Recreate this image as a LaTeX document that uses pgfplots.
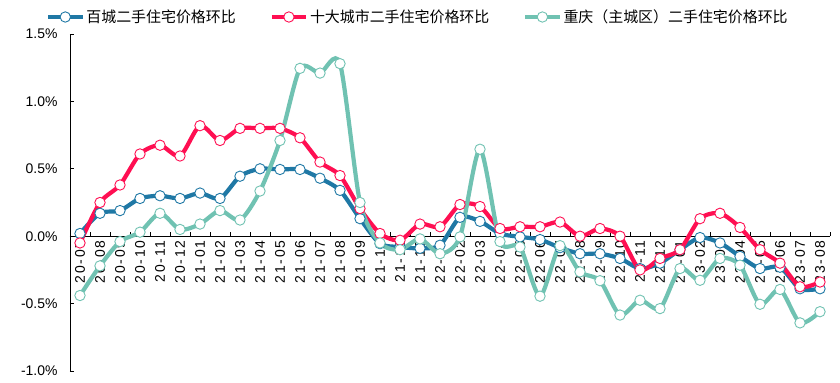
\documentclass[border=0pt]{standalone}
\usepackage{pgfplots}
\pgfplotsset{compat=1.18}
\usepackage{pgfplotstable}
\usepackage{fontspec}
\setmainfont{Liberation Sans}
\newfontfamily\cjk{Noto Sans CJK SC}
\newfontfamily\xlab[LetterSpace=12]{Liberation Sans}
\definecolor{cBlue}{RGB}{31,120,165}
\definecolor{cRed}{RGB}{255,15,82}
\definecolor{cTeal}{RGB}{112,194,178}
\pgfplotstableread{
x b r t
0 0.02 -0.05 -0.44
1 0.17 0.25 -0.22
2 0.19 0.38 -0.04
3 0.28 0.61 0.03
4 0.30 0.675 0.17
5 0.28 0.595 0.05
6 0.32 0.82 0.09
7 0.28 0.71 0.19
8 0.445 0.80 0.12
9 0.50 0.80 0.335
10 0.495 0.80 0.71
11 0.495 0.73 1.245
12 0.43 0.55 1.21
13 0.34 0.45 1.28
14 0.13 0.205 0.25
15 -0.055 0.02 -0.05
16 -0.08 -0.03 -0.10
17 -0.09 0.09 -0.02
18 -0.067 0.07 -0.13
19 0.14 0.235 -0.005
20 0.11 0.22 0.645
21 0.02 0.057 -0.04
22 -0.005 0.07 -0.08
23 -0.025 0.07 -0.445
24 -0.085 0.105 -0.07
25 -0.13 0.0 -0.265
26 -0.13 0.057 -0.33
27 -0.165 0.0 -0.585
28 -0.24 -0.25 -0.475
29 -0.20 -0.165 -0.537
30 -0.10 -0.10 -0.24
31 -0.01 0.13 -0.327
32 -0.05 0.17 -0.165
33 -0.15 0.065 -0.215
34 -0.24 -0.10 -0.505
35 -0.23 -0.20 -0.395
36 -0.39 -0.375 -0.643
37 -0.39 -0.34 -0.56
}\data
\begin{document}
\begin{tikzpicture}
\useasboundingbox (-70bp,-12bp) rectangle (770bp,371bp);
\begin{axis}[
  scale only axis,
  width=760bp, height=337bp,
  xmin=-0.5, xmax=37.5,
  ymin=-1, ymax=1.5,
  axis x line*=middle,
  axis y line*=left,
  axis line style={black, line width=1pt},
  ytick={-1,-0.5,0,0.5,1,1.5},
  yticklabel={\pgfmathprintnumber[fixed,fixed zerofill,precision=1]{\tick}\%},
  /pgf/number format/assume math mode=true,
  yticklabel style={font=\fontsize{14}{16}\selectfont, xshift=-9bp},
  tick align=inside,
  major tick length=4bp,
  tick style={black, line width=0.8pt},
  xtick={0.5,1.5,...,37.5},
  xticklabels={},
  extra x ticks={0,...,37},
  extra x tick labels={20-07,20-08,20-09,20-10,20-11,20-12,21-01,21-02,21-03,21-04,21-05,21-06,21-07,21-08,21-09,21-10,21-11,21-12,22-01,22-02,22-03,22-04,22-05,22-06,22-07,22-08,22-09,22-10,22-11,22-12,23-01,23-02,23-03,23-04,23-05,23-06,23-07,23-08},
  extra x tick style={major tick length=0pt, xticklabel style={rotate=90, anchor=east, font=\xlab\fontsize{14}{16}\selectfont, yshift=0bp, xshift=-1bp}},
  clip=false,
  legend columns=3,
  legend style={draw=none, fill=none, at={(rel axis cs:0,1)}, anchor=west, xshift=-24bp, yshift=17bp,
    font=\cjk\fontsize{15}{18}\selectfont, inner sep=0pt,
    /tikz/every even column/.append style={column sep=32bp}},
  legend image code/.code={\draw[mark repeat=2,mark phase=2,#1] plot coordinates {(0bp,0bp) (17bp,0bp) (34bp,0bp)};},
  every axis plot/.append style={smooth, tension=0.45, line width=4.2bp, mark=*, mark size=5.2bp},
]
\addplot[cBlue, mark options={draw=cBlue, fill=white, line width=0.9bp}] table[x=x, y=b] {\data};
\addlegendentry{百城二手住宅价格环比}
\addplot[cRed, mark options={draw=cRed, fill=white, line width=0.9bp}] table[x=x, y=r] {\data};
\addlegendentry{十大城市二手住宅价格环比}
\addplot[cTeal, mark options={draw=cTeal, fill=white, line width=0.9bp}] table[x=x, y=t] {\data};
\addlegendentry{重庆（主城区）二手住宅价格环比}
\end{axis}
\end{tikzpicture}
\end{document}
